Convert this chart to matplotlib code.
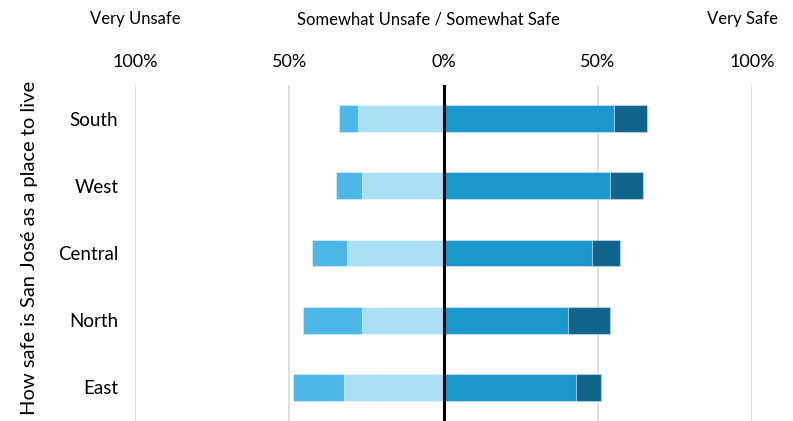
import matplotlib
matplotlib.use("Agg")
import matplotlib.pyplot as plt
import numpy as np

plt.rcParams['font.family'] = ['Lato', 'DejaVu Sans']

regions = ["South", "West", "Central", "North", "East"]
very_unsafe = [6.4, 8.7, 11.4, 19.3, 16.4]
somewhat_unsafe = [27.6, 26.3, 31.2, 26.4, 32.3]
somewhat_safe = [55.2, 53.9, 48.1, 40.3, 43.1]
very_safe = [10.7, 10.9, 9.1, 13.8, 8.1]

tick_values = [-100, -50, 0, 50, 100]
tick_labels = ["100%", "50%", "0%", "50%", "100%"]
headers = [("Very Unsafe", -100), ("Somewhat Unsafe / Somewhat Safe", -5), ("Very Safe", 97)]

c_vu = "#4cb8e7"
c_su = "#aadff4"
c_ss = "#1b97cc"
c_vs = "#11648a"

fig = plt.figure(figsize=(7.93, 4.21), dpi=100)
ax = fig.add_axes([135 / 793, 0.0, (752 - 135) / 793, (421 - 85) / 421])

y = np.arange(len(regions))
vu = np.array(very_unsafe)
su = np.array(somewhat_unsafe)
ss = np.array(somewhat_safe)
vs = np.array(very_safe)
h = 0.4
kw = dict(height=h, edgecolor=(1, 1, 1, 0.35), linewidth=0.8, zorder=2)
ax.barh(y, -su, left=0, color=c_su, **kw)
ax.barh(y, -vu, left=-su, color=c_vu, **kw)
ax.barh(y, ss, left=0, color=c_ss, **kw)
ax.barh(y, vs, left=ss, color=c_vs, **kw)

ax.set_xlim(-100, 100)
ax.set_ylim(len(regions) - 0.5, -0.5)
for t in tick_values:
    if t == 0:
        ax.axvline(t, color="black", lw=2.2, zorder=3)
    else:
        ax.axvline(t, color="#d9d9d9", lw=1.2, zorder=1)

ax.xaxis.tick_top()
ax.set_xticks(tick_values)
ax.set_xticklabels(tick_labels, fontsize=13)
ax.tick_params(axis="x", length=0, pad=11)
ax.set_yticks(y)
ax.set_yticklabels(regions, fontsize=13.5)
ax.tick_params(axis="y", length=0, pad=12)
for s in ax.spines.values():
    s.set_visible(False)

# header row above the percentage ticks
for text, xv in headers:
    ax.text(xv, -0.5 - 66 / 67.3, text, ha="center", va="center", fontsize=12)

fig.text(30 / 793, 1 - 248 / 421, "How safe is San José as a place to live",
         rotation=90, ha="center", va="center", fontsize=14.5)

fig.savefig("out.png", dpi=100)
